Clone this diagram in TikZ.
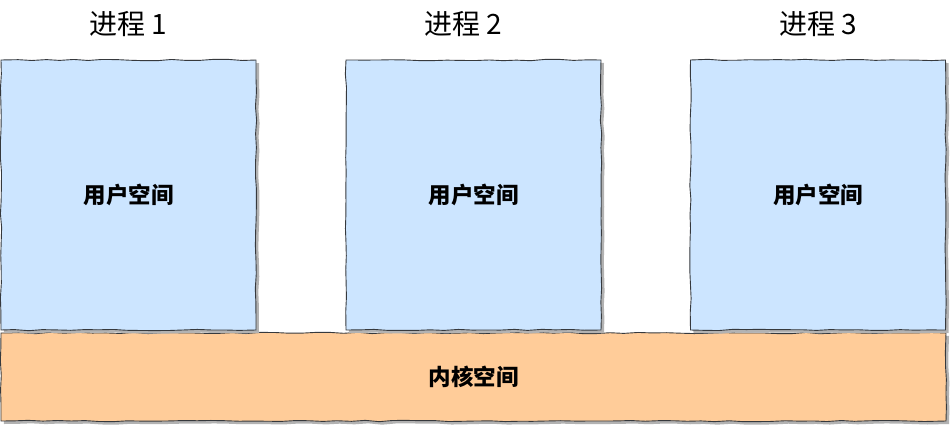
\documentclass[tikz,border=0pt]{standalone}
\usepackage{fontspec}
\setmainfont{Noto Sans CJK SC}
\usetikzlibrary{decorations.pathmorphing,shadows}

\definecolor{userblue}{HTML}{CCE5FF}
\definecolor{kernelorange}{HTML}{FFCC99}
\definecolor{edgegray}{HTML}{36393D}

\tikzset{
    sketch/.style={decorate, decoration={random steps, segment length=14pt, amplitude=0.7pt}},
    userbox/.style={draw=edgegray, line width=0.9pt, fill=userblue, sketch,
        minimum width=255pt, minimum height=270pt, inner sep=0pt,
        general shadow={fill=black!30, shadow xshift=3pt, shadow yshift=-3pt},
        font=\fontsize{22.5}{27}\selectfont\bfseries},
    kernelbox/.style={userbox, fill=kernelorange, minimum width=945pt, minimum height=88pt},
    title/.style={font=\fontsize{28}{33}\selectfont}
}

\begin{document}
\begin{tikzpicture}[x=1pt, y=-1pt]
    \useasboundingbox (0, 0) rectangle (950, 426);

    \node[kernelbox] (kernel) at (473.5, 377) {内核空间};

    \node[userbox] (proc1) at (128.5, 195) {用户空间};
    \node[userbox] (proc2) at (473.5, 195) {用户空间};
    \node[userbox] (proc3) at (818, 195) {用户空间};

    \node[title] (name1) at (128, 24) {进程 1};
    \node[title] (name2) at (463, 24) {进程 2};
    \node[title] (name3) at (818, 24) {进程 3};
\end{tikzpicture}
\end{document}
